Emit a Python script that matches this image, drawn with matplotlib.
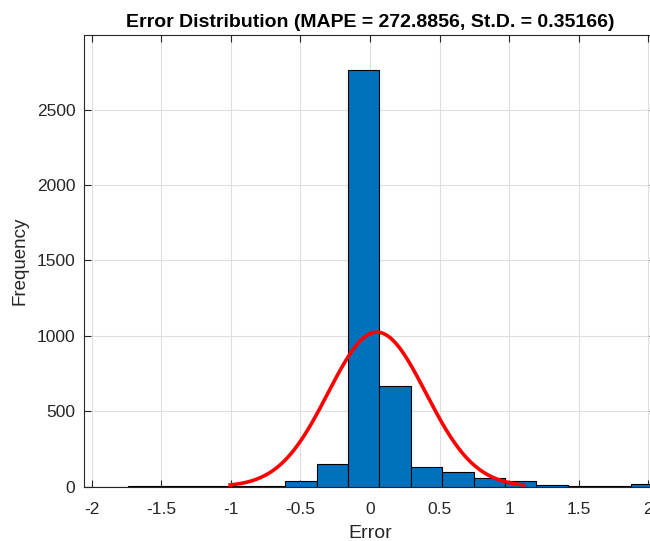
import numpy as np
import matplotlib
matplotlib.use("Agg")
import matplotlib.pyplot as plt

# ======================
# DATA
# ======================
bin_edges = [-2.189, -1.963, -1.737, -1.512, -1.286, -1.060, -0.835, -0.609,
             -0.384, -0.158, 0.068, 0.293, 0.519, 0.745, 0.970, 1.196,
             1.421, 1.647, 1.873, 2.098]
counts = [1, 1, 3, 2, 3, 5, 7, 40, 153, 2760, 668, 130, 95, 58, 35, 14, 3, 6, 18]

fit_mu = 0.05
fit_sigma = 0.35166
mape = 272.8856

x_ticks = [-2, -1.5, -1, -0.5, 0, 0.5, 1, 1.5, 2]
x_ticklabels = ["-2", "-1.5", "-1", "-0.5", "0", "0.5", "1", "1.5", "2"]
y_ticks = [0, 500, 1000, 1500, 2000, 2500]

# ======================
# STYLE
# ======================
plt.rcParams["font.family"] = ["Liberation Sans", "DejaVu Sans"]
axis_gray = (0.15, 0.15, 0.15)

fig = plt.figure(figsize=(6.5, 5.41), dpi=100)
ax = fig.add_axes([0.1297, 0.1004, 0.879, 0.835])

# ======================
# HISTOGRAM
# ======================
edges = np.array(bin_edges)
widths = np.diff(edges)
ax.bar(edges[:-1], counts, width=widths, align="edge",
       color="#0072BD", edgecolor="black", linewidth=0.8, zorder=2)

# normal fit over mu +/- 3 sigma, scaled to counts
n_total = sum(counts)
bin_w = widths.mean()
xs = np.linspace(fit_mu - 3 * fit_sigma, fit_mu + 3 * fit_sigma, 200)
pdf = np.exp(-0.5 * ((xs - fit_mu) / fit_sigma) ** 2) / (fit_sigma * np.sqrt(2 * np.pi))
ax.plot(xs, pdf * n_total * bin_w, color="red", linewidth=2.6, zorder=3)

# ======================
# AXES
# ======================
ax.set_xlim(-2.053, 2.053)
ax.set_ylim(0, 2995)
ax.set_xticks(x_ticks)
ax.set_xticklabels(x_ticklabels)
ax.set_yticks(y_ticks)

ax.grid(True, color=(0.87, 0.87, 0.87), linewidth=0.8, zorder=0)
ax.set_axisbelow(True)
ax.tick_params(direction="in", top=True, right=True, length=5,
               colors=axis_gray, labelsize=12.5, width=0.8)
ax.tick_params(axis="x", pad=11)
ax.tick_params(axis="y", pad=6.5)
for s in ax.spines.values():
    s.set_color(axis_gray)
    s.set_linewidth(0.8)

ax.set_xlabel("Error", fontsize=14, color=axis_gray, labelpad=6)
ax.set_ylabel("Frequency", fontsize=13.5, color=axis_gray, labelpad=6)
ax.set_title(f"Error Distribution (MAPE = {mape}, St.D. = {fit_sigma})",
             fontsize=14, fontweight="bold", pad=6)

fig.savefig("out.png", dpi=100)
